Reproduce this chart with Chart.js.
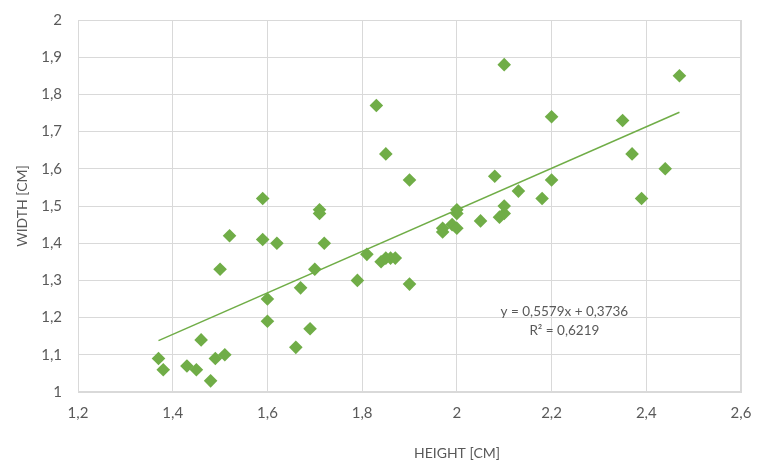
<!DOCTYPE html>
<html>
<head>
<meta charset="utf-8">
<script src="https://cdn.jsdelivr.net/npm/chart.js@4/dist/chart.umd.min.js"></script>
<style>
html,body{margin:0;padding:0;background:#fff;}
#wrap{width:760px;height:463px;position:relative;}
</style>
</head>
<body>
<div id="wrap"><canvas id="c" width="760" height="463"></canvas></div>
<script>
const heights = [1.37,1.38,1.43,1.45,1.46,1.48,1.49,1.51,1.50,1.52,
  1.59,1.59,1.60,1.60,1.62,1.66,1.67,1.69,1.70,1.71,1.71,1.72,
  1.79,1.81,1.83,1.84,1.85,1.85,1.86,1.87,1.90,1.90,
  1.97,1.97,1.99,2.00,2.00,2.00,2.05,2.08,2.09,2.10,2.10,2.10,
  2.13,2.18,2.20,2.20,2.35,2.37,2.39,2.44,2.47];
const widths = [1.09,1.06,1.07,1.06,1.14,1.03,1.09,1.10,1.33,1.42,
  1.52,1.41,1.25,1.19,1.40,1.12,1.28,1.17,1.33,1.49,1.48,1.40,
  1.30,1.37,1.77,1.35,1.64,1.36,1.36,1.36,1.57,1.29,
  1.43,1.44,1.45,1.44,1.48,1.49,1.46,1.58,1.47,1.48,1.50,1.88,
  1.54,1.52,1.57,1.74,1.73,1.64,1.52,1.60,1.85];
const trendX = [1.37, 2.47];
const trendY = [1.138, 1.752];
const xTicks = ['1,2','1,4','1,6','1,8','2','2,2','2,4','2,6'];
const yTicks = ['1','1,1','1,2','1,3','1,4','1,5','1,6','1,7','1,8','1,9','2'];
const eqLines = ['y = 0,5579x + 0,3736', 'R² = 0,6219'];
const xTitle = 'HEIGHT [CM]';
const yTitle = 'WIDTH [CM]';

const FONT = 'Lato, "Open Sans", sans-serif';
const TXT = '#595959';
const GREEN = '#70AD47';

const textPlugin = {
  id: 'texts',
  afterDraw(chart) {
    const ctx = chart.ctx;
    const xs = chart.scales.x, ys = chart.scales.y;
    ctx.save();
    ctx.fillStyle = TXT;
    ctx.textAlign = 'center';
    ctx.textBaseline = 'middle';
    ctx.font = '13.5px ' + FONT;
    const ex = xs.getPixelForValue(2.227);
    ctx.fillText(eqLines[0], ex, ys.getPixelForValue(1.215));
    ctx.fillText(eqLines[1], ex, ys.getPixelForValue(1.164));
    ctx.font = '14px ' + FONT;
    ctx.fillText(xTitle, 457, 453);
    ctx.translate(22, (chart.chartArea.top + chart.chartArea.bottom)/2);
    ctx.rotate(-Math.PI/2);
    ctx.fillText(yTitle, 0, 0);
    ctx.restore();
  }
};

const points = heights.map((h,i)=>({x:h, y:widths[i]}));
const trend = trendX.map((x,i)=>({x:x, y:trendY[i]}));

new Chart(document.getElementById('c'), {
  type: 'scatter',
  data: {
    datasets: [
      {
        label: 'data',
        data: points,
        pointStyle: 'rectRot',
        pointRadius: 6.8,
        pointHoverRadius: 6.8,
        backgroundColor: GREEN,
        borderColor: GREEN,
        borderWidth: 0,
        order: 1
      },
      {
        label: 'trend',
        type: 'line',
        data: trend,
        borderColor: GREEN,
        borderWidth: 1.5,
        pointRadius: 0,
        fill: false,
        order: 2
      }
    ]
  },
  options: {
    responsive: false,
    animation: false,
    events: [],
    layout: { padding: { left: 0, right: 19, top: 20, bottom: 0 } },
    plugins: { legend: { display: false }, tooltip: { enabled: false } },
    scales: {
      x: {
        type: 'linear',
        min: 1.2, max: 2.6,
        afterFit(s) { s.height = 71; s.paddingLeft = 0; s.paddingRight = 0; },
        afterBuildTicks(s) { s.ticks = xTicks.map((t,i)=>({value: 1.2 + i*0.2})); },
        ticks: {
          callback: (v, i) => xTicks[i],
          color: TXT, font: { family: FONT, size: 15 }, padding: 12, maxRotation: 0
        },
        grid: { color: '#D9D9D9', lineWidth: 1, drawTicks: false },
        border: { color: '#D9D9D9', width: 1 }
      },
      y: {
        type: 'linear',
        min: 1, max: 2,
        afterFit(s) { s.width = 78; s.paddingTop = 0; s.paddingBottom = 0; },
        afterBuildTicks(s) { s.ticks = yTicks.map((t,i)=>({value: 1 + i*0.1})); },
        ticks: {
          callback: (v, i) => yTicks[i],
          color: TXT, font: { family: FONT, size: 15 }, padding: 16
        },
        grid: { color: '#D9D9D9', lineWidth: 1, drawTicks: false },
        border: { color: '#D9D9D9', width: 1 }
      }
    }
  },
  plugins: [textPlugin, {
    id: 'frame',
    afterDatasetsDraw(chart) {
      const {left,right,top,bottom} = chart.chartArea;
      const ctx = chart.ctx;
      ctx.save();
      ctx.strokeStyle = '#D9D9D9';
      ctx.lineWidth = 1;
      ctx.strokeRect(left+0.5, top+0.5, right-left-1, bottom-top-1);
      ctx.restore();
    }
  }]
});
</script>
</body>
</html>
